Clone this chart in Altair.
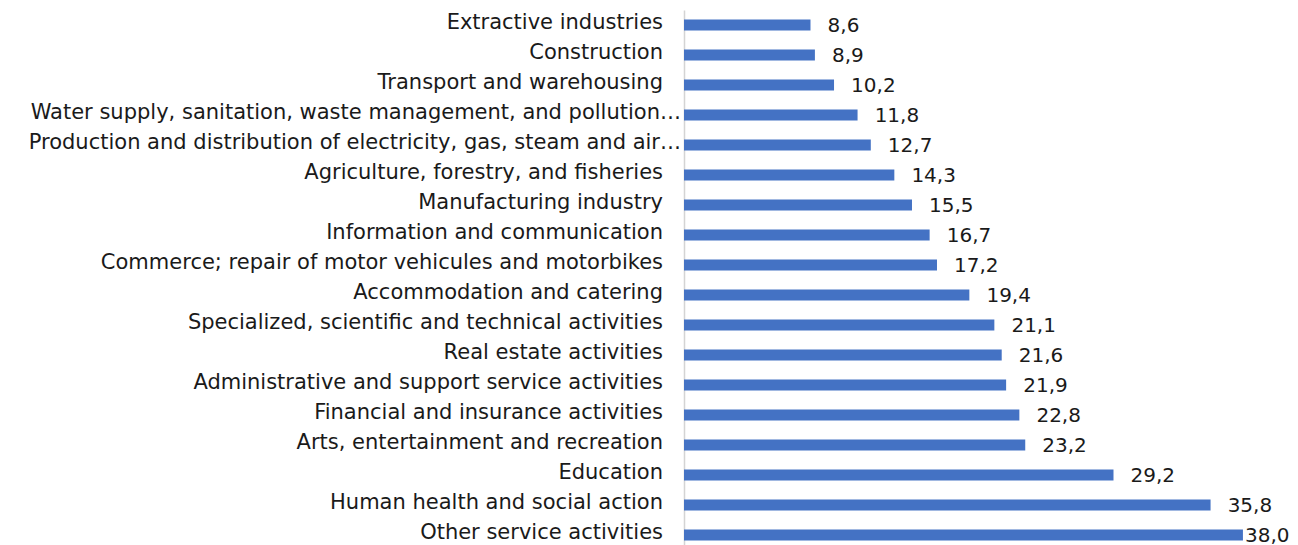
import altair as alt
import pandas as pd

categories = [
    "Extractive industries",
    "Construction",
    "Transport and warehousing",
    "Water supply, sanitation, waste management, and pollution…",
    "Production and distribution of electricity, gas, steam and air…",
    "Agriculture, forestry, and fisheries",
    "Manufacturing industry",
    "Information and communication",
    "Commerce; repair of motor vehicules and motorbikes",
    "Accommodation and catering",
    "Specialized, scientific and technical activities",
    "Real estate activities",
    "Administrative and support service activities",
    "Financial and insurance activities",
    "Arts, entertainment and recreation",
    "Education",
    "Human health and social action",
    "Other service activities",
]
values = [8.6, 8.9, 10.2, 11.8, 12.7, 14.3, 15.5, 16.7, 17.2, 19.4,
          21.1, 21.6, 21.9, 22.8, 23.2, 29.2, 35.8, 38.0]

df = pd.DataFrame({"category": categories, "value": values,
                   "idx": list(range(len(categories)))})

FONT = "DejaVu Sans"
W, H = 606, 537

xs = alt.Scale(domain=[0, 41.2], nice=False, zero=True, padding=0)
ys = alt.Scale(domain=[-0.5, 17.4], nice=False, zero=False, reverse=True, padding=0)
yaxis = alt.Axis(labels=False, ticks=False, grid=False, title=None,
                 domain=True, domainColor="#d4d4d4", domainWidth=1.5,
                 orient="left")

base = alt.Chart(df)

bars = base.mark_bar(orient="horizontal", size=11, color="#4472C4").encode(
    x=alt.X("value:Q", scale=xs, axis=None),
    y=alt.Y("idx:Q", scale=ys, axis=yaxis),
)

vlabels = base.transform_calculate(
    txt="replace(format(datum.value, '.1f'), '.', ',')",
    lx="min(datum.value + 1.16, 38.14)",
).mark_text(align="left", baseline="middle", font=FONT, fontSize=20,
            color="#1a1a1a", dy=1).encode(
    x=alt.X("lx:Q", scale=xs, axis=None),
    y=alt.Y("idx:Q", scale=ys, axis=yaxis),
    text="txt:N",
)

clabels = base.transform_calculate(
    off="indexof(datum.category, '…') >= 0 ? -3 : -21"
).mark_text(align="right", baseline="middle", font=FONT, fontSize=21,
            color="#1a1a1a", dy=-2).encode(
    x=alt.X("off:Q", scale=None, axis=None),
    y=alt.Y("idx:Q", scale=ys, axis=yaxis),
    text="category:N",
)

chart = alt.layer(bars, vlabels, clabels).properties(
    width=W, height=H,
    background="white",
    autosize=alt.AutoSizeParams(type="none"),
    padding={"left": 676, "top": 2, "right": 0, "bottom": 0},
).configure_view(strokeWidth=0, strokeOpacity=0)

chart.save("out.html", embed_options={"renderer": "svg", "actions": False})
